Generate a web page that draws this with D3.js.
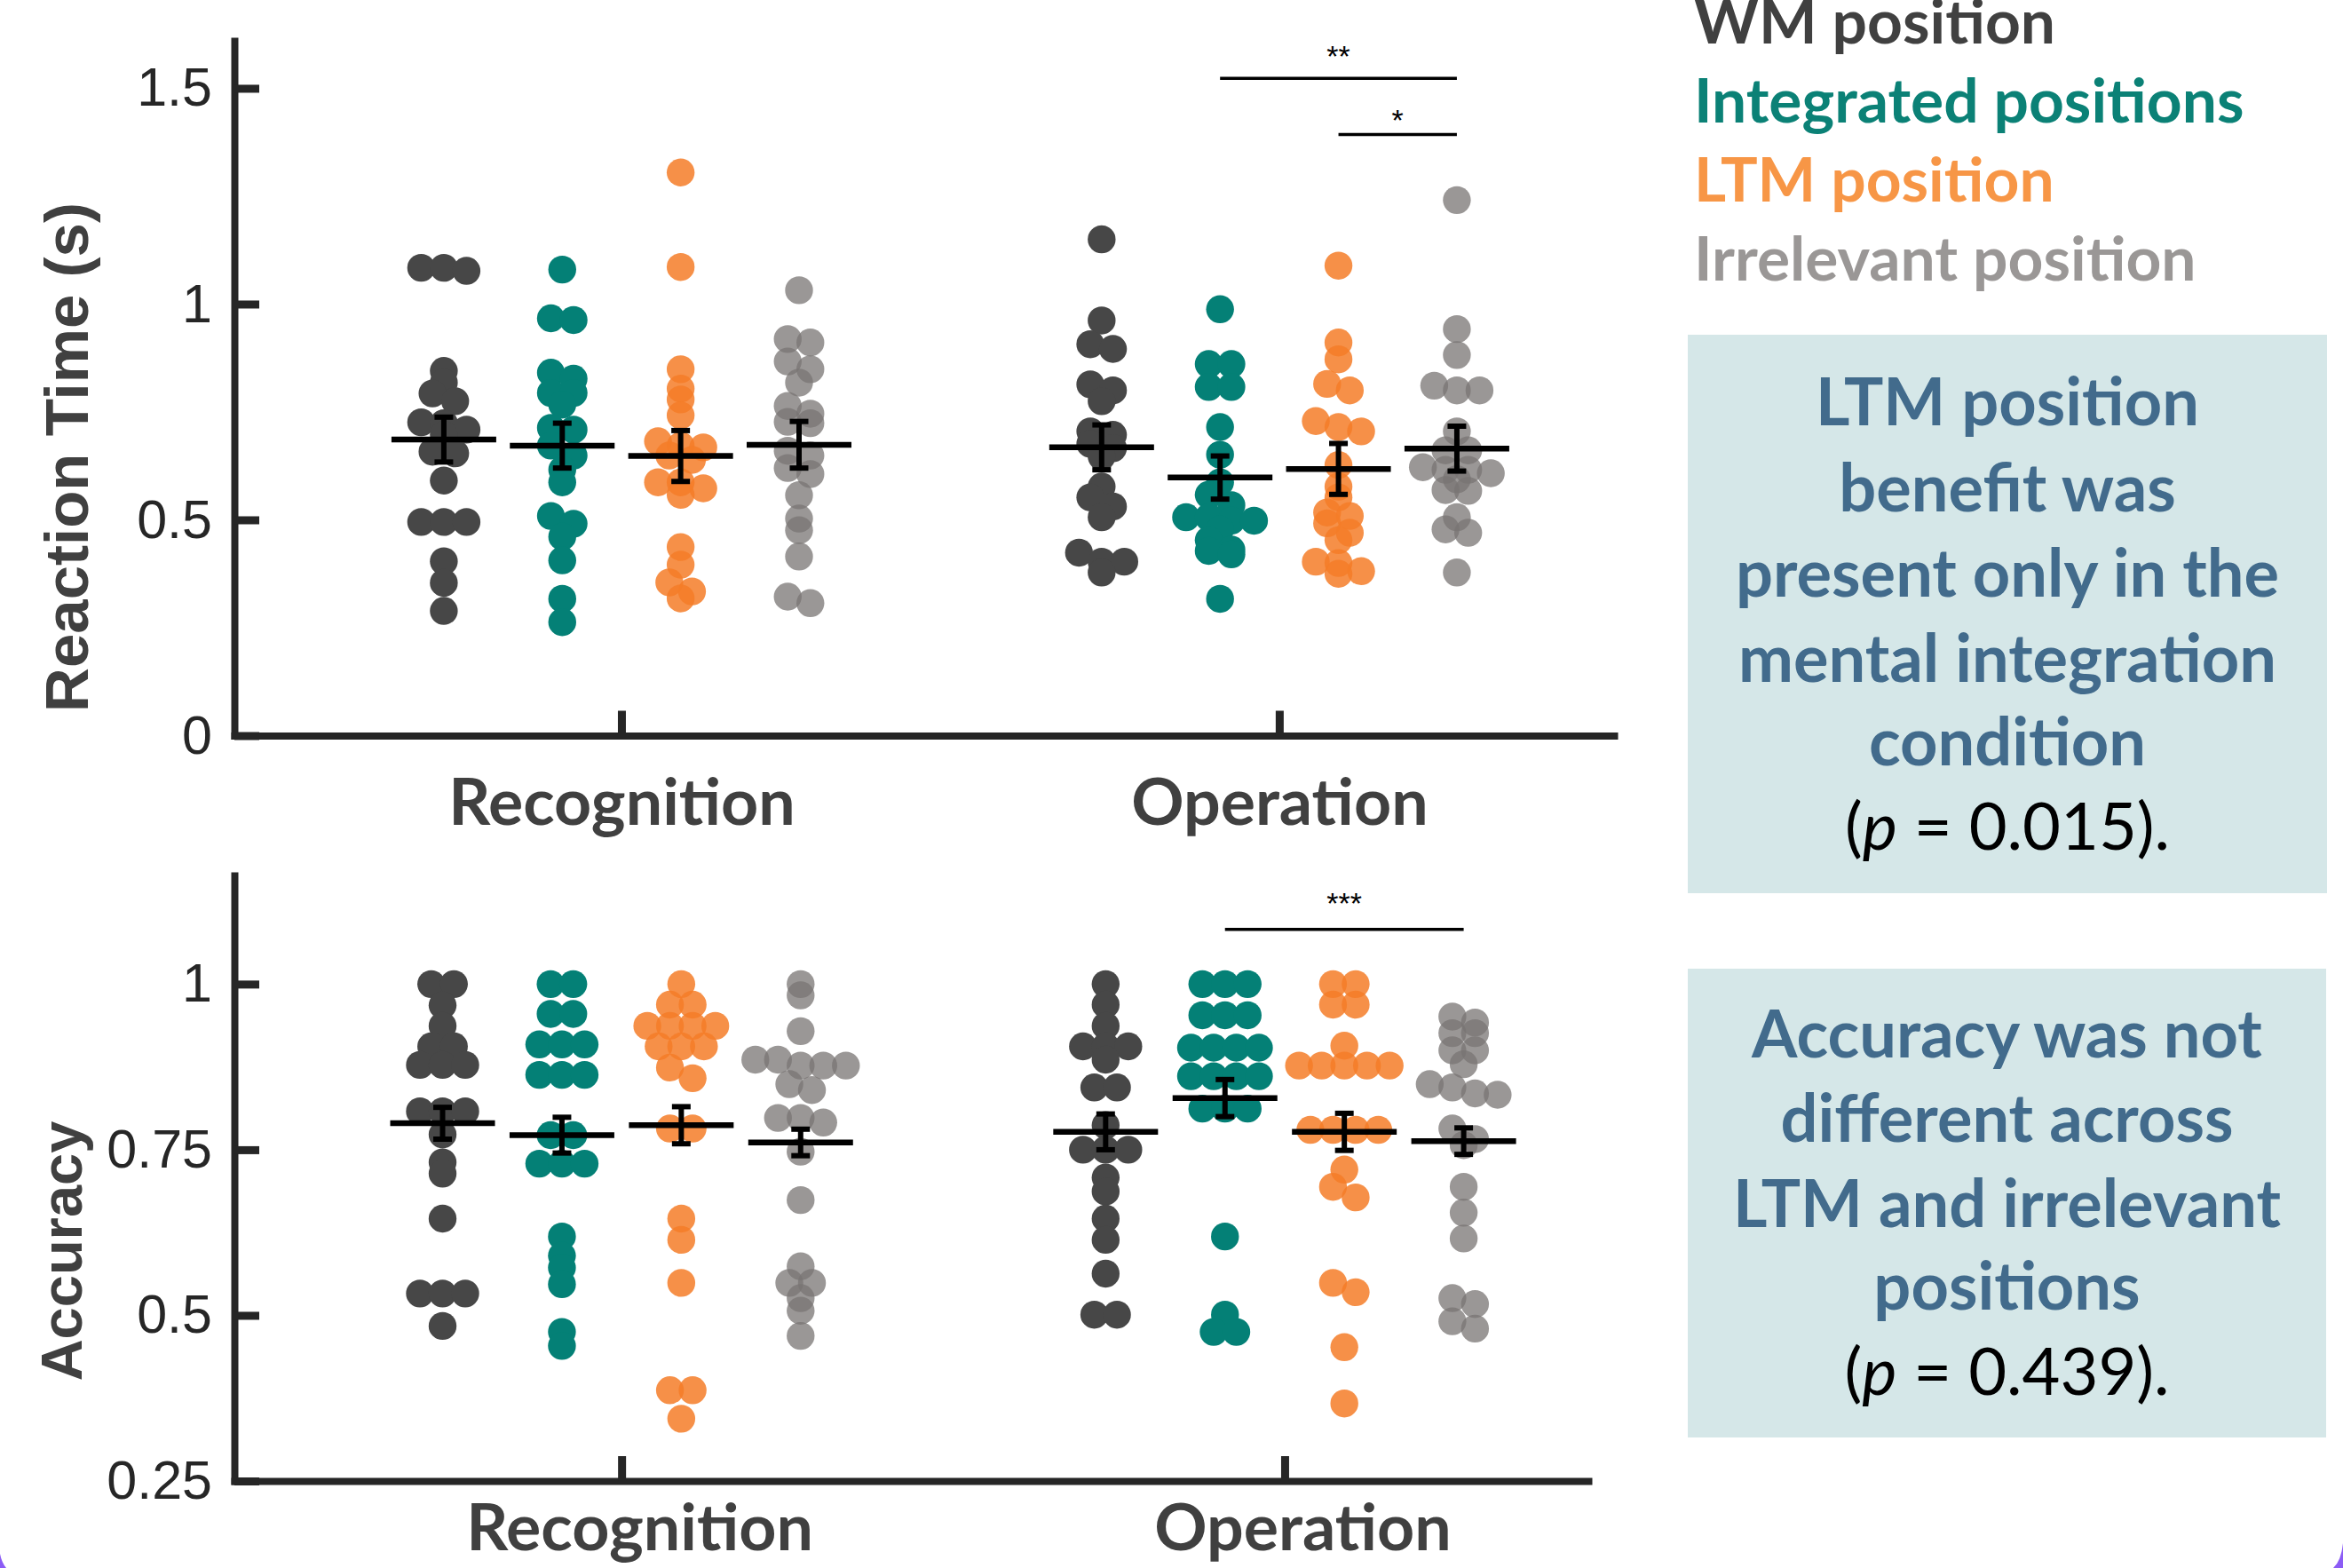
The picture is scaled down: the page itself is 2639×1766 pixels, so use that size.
<!DOCTYPE html>
<html>
<head>
<meta charset="utf-8">
<script src="https://cdn.jsdelivr.net/npm/d3@7"></script>
<style>
  html, body { margin: 0; padding: 0; background: #ffffff; }
  svg { display: block; }
</style>
</head>
<body>
<svg id="fig" width="2639" height="1766"></svg>
<script>
// ---------------------------------------------------------------
// Data
// ---------------------------------------------------------------
const conditions = ["Recognition", "Operation"];
const positions = ["WM position", "Integrated positions", "LTM position", "Irrelevant position"];

// Reaction time (s), one value per participant
const rtRecWM  = [1.084, 1.084, 1.077, 0.845, 0.818, 0.793, 0.775, 0.726, 0.724, 0.709, 0.697, 0.658, 0.654, 0.591, 0.495, 0.495, 0.495, 0.404, 0.354, 0.289];
const rtRecInt = [1.080, 0.967, 0.963, 0.841, 0.827, 0.794, 0.794, 0.767, 0.713, 0.709, 0.672, 0.649, 0.616, 0.587, 0.509, 0.491, 0.461, 0.406, 0.317, 0.263];
const rtRecLTM = [1.305, 1.086, 0.849, 0.804, 0.779, 0.742, 0.682, 0.672, 0.668, 0.649, 0.639, 0.587, 0.587, 0.573, 0.558, 0.437, 0.396, 0.355, 0.334, 0.318];
const rtRecIrr = [1.032, 0.919, 0.911, 0.867, 0.849, 0.818, 0.764, 0.746, 0.727, 0.724, 0.660, 0.649, 0.620, 0.606, 0.557, 0.503, 0.476, 0.415, 0.322, 0.307];
const rtOpWM   = [1.150, 0.962, 0.907, 0.896, 0.814, 0.800, 0.775, 0.705, 0.697, 0.676, 0.666, 0.647, 0.577, 0.552, 0.531, 0.506, 0.424, 0.403, 0.403, 0.378];
const rtOpInt  = [0.988, 0.861, 0.861, 0.808, 0.808, 0.715, 0.651, 0.587, 0.558, 0.534, 0.506, 0.506, 0.498, 0.498, 0.478, 0.453, 0.431, 0.428, 0.420, 0.317];
const rtOpLTM  = [1.089, 0.911, 0.872, 0.815, 0.800, 0.729, 0.715, 0.705, 0.627, 0.577, 0.552, 0.517, 0.509, 0.492, 0.470, 0.453, 0.403, 0.400, 0.381, 0.375];
const rtOpIrr  = [1.241, 0.942, 0.882, 0.811, 0.800, 0.800, 0.705, 0.661, 0.661, 0.622, 0.616, 0.616, 0.608, 0.594, 0.569, 0.567, 0.506, 0.478, 0.470, 0.378];

// Group means and error half-widths (s), order: WM, Integrated, LTM, Irrelevant
const rtMeanRec = [0.686, 0.672, 0.648, 0.674];
const rtMeanOp  = [0.668, 0.598, 0.618, 0.665];
const rtErrRec  = [0.052, 0.052, 0.059, 0.054];
const rtErrOp   = [0.052, 0.050, 0.059, 0.052];

// Accuracy (proportion correct), one value per participant
const accRecWM  = [1.000, 1.000, 0.968, 0.937, 0.906, 0.906, 0.878, 0.878, 0.878, 0.808, 0.808, 0.808, 0.773, 0.731, 0.714, 0.646, 0.533, 0.533, 0.533, 0.484];
const accRecInt = [1.000, 1.000, 0.955, 0.955, 0.909, 0.909, 0.909, 0.863, 0.863, 0.863, 0.772, 0.772, 0.729, 0.729, 0.729, 0.619, 0.590, 0.572, 0.547, 0.475, 0.454];
const accRecLTM = [1.000, 0.969, 0.969, 0.937, 0.937, 0.937, 0.937, 0.906, 0.906, 0.906, 0.874, 0.858, 0.782, 0.782, 0.646, 0.614, 0.549, 0.387, 0.387, 0.344];
const accRecIrr = [1.000, 0.983, 0.929, 0.886, 0.886, 0.877, 0.877, 0.877, 0.849, 0.840, 0.798, 0.798, 0.791, 0.747, 0.674, 0.574, 0.549, 0.549, 0.526, 0.507, 0.469];
const accOpWM   = [1.000, 0.969, 0.937, 0.906, 0.906, 0.906, 0.886, 0.844, 0.844, 0.787, 0.750, 0.750, 0.750, 0.708, 0.687, 0.646, 0.614, 0.563, 0.501, 0.501];
const accOpInt  = [1.000, 1.000, 1.000, 0.953, 0.953, 0.953, 0.904, 0.904, 0.904, 0.904, 0.861, 0.861, 0.861, 0.861, 0.812, 0.812, 0.812, 0.619, 0.501, 0.475, 0.475];
const accOpLTM  = [1.000, 1.000, 0.969, 0.969, 0.907, 0.877, 0.877, 0.877, 0.877, 0.877, 0.780, 0.780, 0.780, 0.780, 0.720, 0.694, 0.678, 0.549, 0.535, 0.452, 0.367];
const accOpIrr  = [0.951, 0.942, 0.926, 0.926, 0.900, 0.900, 0.879, 0.849, 0.844, 0.835, 0.833, 0.782, 0.766, 0.757, 0.694, 0.655, 0.616, 0.526, 0.517, 0.491, 0.480];

const accMeanRec = [0.790, 0.772, 0.787, 0.761];
const accMeanOp  = [0.777, 0.828, 0.777, 0.763];
const accErrRec  = [0.024, 0.027, 0.028, 0.020];
const accErrOp   = [0.027, 0.028, 0.028, 0.020];

// Axis ticks and labels
const rtTicks = [0, 0.5, 1, 1.5];
const rtTickLabels = ["0", "0.5", "1", "1.5"];
const accTicks = [0.25, 0.5, 0.75, 1];
const accTickLabels = ["0.25", "0.5", "0.75", "1"];

// Pairwise comparisons: [condition, position index A, position index B, stars]
const rtComparisons  = [["Operation", 1, 3, "**"], ["Operation", 2, 3, "*"]];
const accComparisons = [["Operation", 1, 3, "***"]];

// Side notes
const legendLabels = positions;
const note1Lines = ["LTM position", "benefit was", "present only in the", "mental integration", "condition"];
const note1P = "0.015";
const note2Lines = ["Accuracy was not", "different across", "LTM and irrelevant", "positions"];
const note2P = "0.439";

// ---------------------------------------------------------------
// Styling
// ---------------------------------------------------------------
const dotStyle = [
  { fill: "#474747", opacity: 1.0 },
  { fill: "#048076", opacity: 1.0 },
  { fill: "#f47d28", opacity: 0.85 },
  { fill: "#787473", opacity: 0.75 }
];
const legendColors = ["#404040", "#0b8176", "#f79646", "#9a9796"];
const axisColor = "#262626";
const labelColor = "#404040";
const noteColor = "#426b8c";
const noteFill = "#d5e7e8";
const groupOffsets = [-0.27, -0.09, 0.09, 0.27];
const DOT_R = 15.7;
const sansBold = "Lato, 'Open Sans', sans-serif";
const arial = "'Liberation Sans', Arial, sans-serif";

const svg = d3.select("#fig");
svg.append("rect").attr("width", 2639).attr("height", 1766).attr("fill", "#ffffff");

// Simple binned spread layout: values closer than binPx share a row
function spread(values, y, slot, binPx) {
  const pts = values.map(v => ({ v, py: y(v) })).sort((a, b) => a.py - b.py);
  const out = [];
  let i = 0;
  while (i < pts.length) {
    let j = i;
    while (j + 1 < pts.length && pts[j + 1].py - pts[i].py < binPx) j++;
    const n = j - i + 1;
    for (let k = 0; k < n; k++) out.push({ v: pts[i + k].v, dx: (k - (n - 1) / 2) * slot });
    i = j + 1;
  }
  return out;
}

function drawPanel(cfg) {
  const x = d3.scaleLinear().domain(cfg.xDomain).range(cfg.xRange);
  const y = d3.scaleLinear().domain(cfg.yDomain).range(cfg.yRange);
  const g = svg.append("g");

  // y axis
  const yAxis = d3.axisLeft(y)
    .tickValues(cfg.ticks)
    .tickFormat((d, i) => cfg.tickLabels[i])
    .tickSizeInner(-28).tickSizeOuter(0).tickPadding(25);
  const ya = g.append("g").attr("transform", `translate(${cfg.xRange[0]},0)`).call(yAxis);
  ya.select(".domain").attr("stroke", axisColor).attr("stroke-width", 8).attr("stroke-linecap", "square");
  ya.selectAll(".tick line").attr("stroke", axisColor).attr("stroke-width", 9);
  ya.selectAll(".tick text")
    .attr("fill", axisColor)
    .style("font-family", arial)
    .style("font-size", "61px");

  // x axis
  const xAxis = d3.axisBottom(x)
    .tickValues([1, 2])
    .tickFormat((d, i) => conditions[i])
    .tickSizeInner(-28).tickSizeOuter(0);
  const xa = g.append("g").attr("transform", `translate(0,${cfg.yRange[0]})`).call(xAxis);
  xa.select(".domain").attr("stroke", axisColor).attr("stroke-width", 8).attr("stroke-linecap", "square");
  xa.selectAll(".tick line").attr("stroke", axisColor).attr("stroke-width", 9);
  xa.selectAll(".tick text")
    .attr("fill", labelColor)
    .attr("x", cfg.labelDx)
    .attr("y", cfg.labelBaseline - cfg.yRange[0])
    .attr("dy", null)
    .style("font-family", sansBold)
    .style("font-weight", 700)
    .style("font-size", "73.5px");

  // y title
  g.append("text")
    .attr("transform", `translate(${cfg.titleX},${cfg.titleY}) rotate(-90)`)
    .attr("text-anchor", "middle")
    .attr("fill", labelColor)
    .style("font-family", arial)
    .style("font-weight", 700)
    .style("font-size", cfg.titleSize + "px")
    .text(cfg.title);

  // dots
  cfg.groups.forEach((row, ci) => {
    row.forEach((vals, pi) => {
      const cx = x(ci + 1 + groupOffsets[pi]);
      const pts = spread(vals, y, 25.5, 12);
      g.append("g")
        .selectAll("circle")
        .data(pts)
        .join("circle")
        .attr("cx", d => cx + d.dx)
        .attr("cy", d => y(d.v))
        .attr("r", DOT_R)
        .attr("fill", dotStyle[pi].fill)
        .attr("fill-opacity", dotStyle[pi].opacity);
    });
  });

  // means and error bars
  cfg.means.forEach((row, ci) => {
    row.forEach((m, pi) => {
      const cx = x(ci + 1 + groupOffsets[pi]);
      const e = cfg.errs[ci][pi];
      const eg = g.append("g").attr("stroke", "#000").attr("fill", "none");
      eg.append("line").attr("x1", cx).attr("x2", cx).attr("y1", y(m + e)).attr("y2", y(m - e)).attr("stroke-width", 6);
      [m + e, m - e].forEach(v => {
        eg.append("line").attr("x1", cx - 10.5).attr("x2", cx + 10.5).attr("y1", y(v)).attr("y2", y(v)).attr("stroke-width", 6);
      });
      eg.append("line").attr("x1", cx - 59).attr("x2", cx + 59).attr("y1", y(m)).attr("y2", y(m)).attr("stroke-width", 6.5);
    });
  });

  // significance brackets
  cfg.comparisons.forEach((c, k) => {
    const ci = conditions.indexOf(c[0]);
    const x1 = x(ci + 1 + groupOffsets[c[1]]);
    const x2 = x(ci + 1 + groupOffsets[c[2]]);
    const yy = y(cfg.bracketLevels[k]);
    g.append("line").attr("x1", x1).attr("x2", x2).attr("y1", yy).attr("y2", yy)
      .attr("stroke", "#000").attr("stroke-width", 3.5);
    g.append("text")
      .attr("x", (x1 + x2) / 2)
      .attr("y", yy - cfg.starGap[k] + 18)
      .attr("text-anchor", "middle")
      .attr("fill", "#000")
      .style("font-family", arial)
      .style("font-size", "34px")
      .text(c[3]);
  });
}

drawPanel({
  xDomain: [0.4116, 2.509], xRange: [264, 1818],
  yDomain: [0, 1.61], yRange: [828.5, 46],
  ticks: rtTicks, tickLabels: rtTickLabels,
  title: "Reaction Time (s)", titleX: 99, titleY: 515, titleSize: 69,
  labelBaseline: 929, labelDx: 0,
  groups: [[rtRecWM, rtRecInt, rtRecLTM, rtRecIrr], [rtOpWM, rtOpInt, rtOpLTM, rtOpIrr]],
  means: [rtMeanRec, rtMeanOp], errs: [rtErrRec, rtErrOp],
  comparisons: rtComparisons, bracketLevels: [1.523, 1.393], starGap: [31, 22]
});

drawPanel({
  xDomain: [0.416, 2.458], xRange: [264, 1789],
  yDomain: [0.25, 1.164], yRange: [1668, 986],
  ticks: accTicks, tickLabels: accTickLabels,
  title: "Accuracy", titleX: 92, titleY: 1409, titleSize: 65,
  labelBaseline: 1746, labelDx: 20,
  groups: [[accRecWM, accRecInt, accRecLTM, accRecIrr], [accOpWM, accOpInt, accOpLTM, accOpIrr]],
  means: [accMeanRec, accMeanOp], errs: [accErrRec, accErrOp],
  comparisons: accComparisons, bracketLevels: [1.0825], starGap: [36]
});

// ---------------------------------------------------------------
// Legend
// ---------------------------------------------------------------
const legendBaselines = [49, 138, 227, 316];
svg.append("g")
  .selectAll("text")
  .data(legendLabels)
  .join("text")
  .attr("x", 1908)
  .attr("y", (d, i) => legendBaselines[i])
  .attr("fill", (d, i) => legendColors[i])
  .style("font-family", sansBold)
  .style("font-weight", 700)
  .style("font-size", "69.5px")
  .text(d => d);

// ---------------------------------------------------------------
// Note boxes
// ---------------------------------------------------------------
function noteBox(box, lines, pValue, baselines) {
  const g = svg.append("g");
  g.append("rect").attr("x", box.x).attr("y", box.y).attr("width", box.w).attr("height", box.h).attr("fill", noteFill);
  const cx = box.x + box.w / 2;
  g.selectAll("text.line")
    .data(lines)
    .join("text")
    .attr("class", "line")
    .attr("x", cx)
    .attr("y", (d, i) => baselines[i])
    .attr("text-anchor", "middle")
    .attr("fill", noteColor)
    .style("font-family", sansBold)
    .style("font-weight", 700)
    .style("font-size", "74px")
    .text(d => d);
  const t = g.append("text")
    .attr("x", cx)
    .attr("y", baselines[lines.length])
    .attr("text-anchor", "middle")
    .attr("fill", "#000")
    .style("font-family", sansBold)
    .style("font-weight", 400)
    .style("font-size", "74px");
  t.append("tspan").text("(");
  t.append("tspan").style("font-style", "italic").text("p");
  t.append("tspan").text(" = " + pValue + ").");
}

noteBox({ x: 1901, y: 377, w: 720, h: 629 }, note1Lines, note1P, [479, 576, 672, 768, 862, 957]);
noteBox({ x: 1901, y: 1091, w: 719, h: 528 }, note2Lines, note2P, [1191, 1286, 1382, 1475, 1571]);

// Frame corners at the bottom edge
svg.append("path").attr("d", "M0,1750 Q2,1760 7,1766 L0,1766 Z").attr("fill", "#8c5cf5");
svg.append("path").attr("d", "M2639,1738 Q2637,1758 2628,1766 L2639,1766 Z").attr("fill", "#8c5cf5");
</script>
</body>
</html>
